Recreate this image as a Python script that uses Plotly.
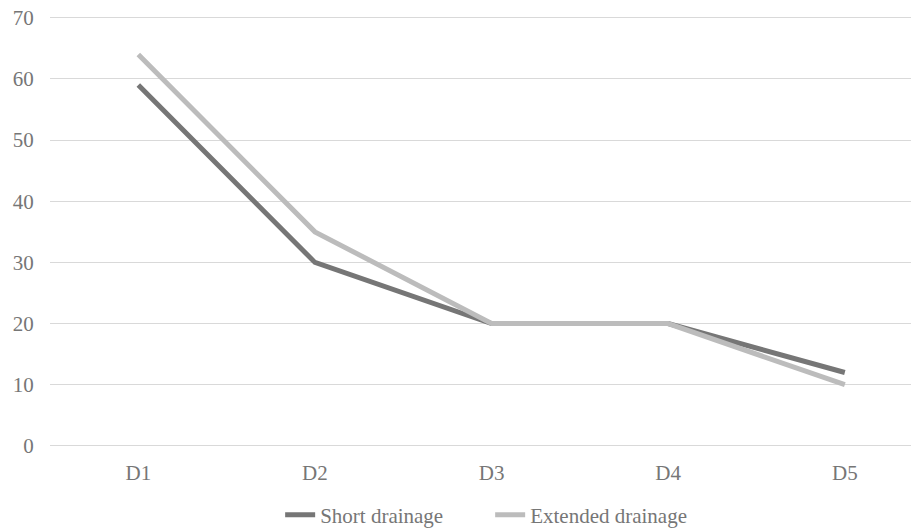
import plotly.graph_objects as go

categories = ["D1", "D2", "D3", "D4", "D5"]
short_drainage = [59, 30, 20, 20, 12]
extended_drainage = [64, 35, 20, 20, 10]

font_family = "Liberation Serif"
text_color = "#767676"

fig = go.Figure()
fig.add_trace(go.Scatter(x=categories, y=short_drainage, mode="lines", name="Short drainage",
                         line=dict(color="#767676", width=5)))
fig.add_trace(go.Scatter(x=categories, y=extended_drainage, mode="lines", name="Extended drainage",
                         line=dict(color="#BCBCBC", width=5)))

# the page body adds an 8px offset, so the figure is 8px smaller than the window
fig.update_layout(
    width=911, height=520,
    margin=dict(l=42, r=0, t=8, b=80, autoexpand=False),
    paper_bgcolor="white", plot_bgcolor="white",
    font=dict(family=font_family, size=21, color=text_color),
    showlegend=True,
    legend=dict(orientation="h", x=0.5065, xanchor="center", y=-0.108, yanchor="top",
                font=dict(size=21, color=text_color), entrywidth=165, entrywidthmode="pixels",
                tracegroupgap=0),
    xaxis=dict(type="category", range=[-0.5, 4.42], showgrid=False, zeroline=False,
               showline=False, ticks="outside", ticklen=6, tickcolor="rgba(0,0,0,0)",
               automargin=False, tickfont=dict(size=21, color=text_color)),
    yaxis=dict(range=[-0.35, 70.3], dtick=10, showgrid=True, gridcolor="#D9D9D9", gridwidth=1.3,
               zeroline=False, showline=False, ticks="outside", ticklen=11,
               tickcolor="rgba(0,0,0,0)", automargin=False, ticklabeloverflow="allow",
               tickfont=dict(size=21, color=text_color)),
)

fig.write_html("out.html")
